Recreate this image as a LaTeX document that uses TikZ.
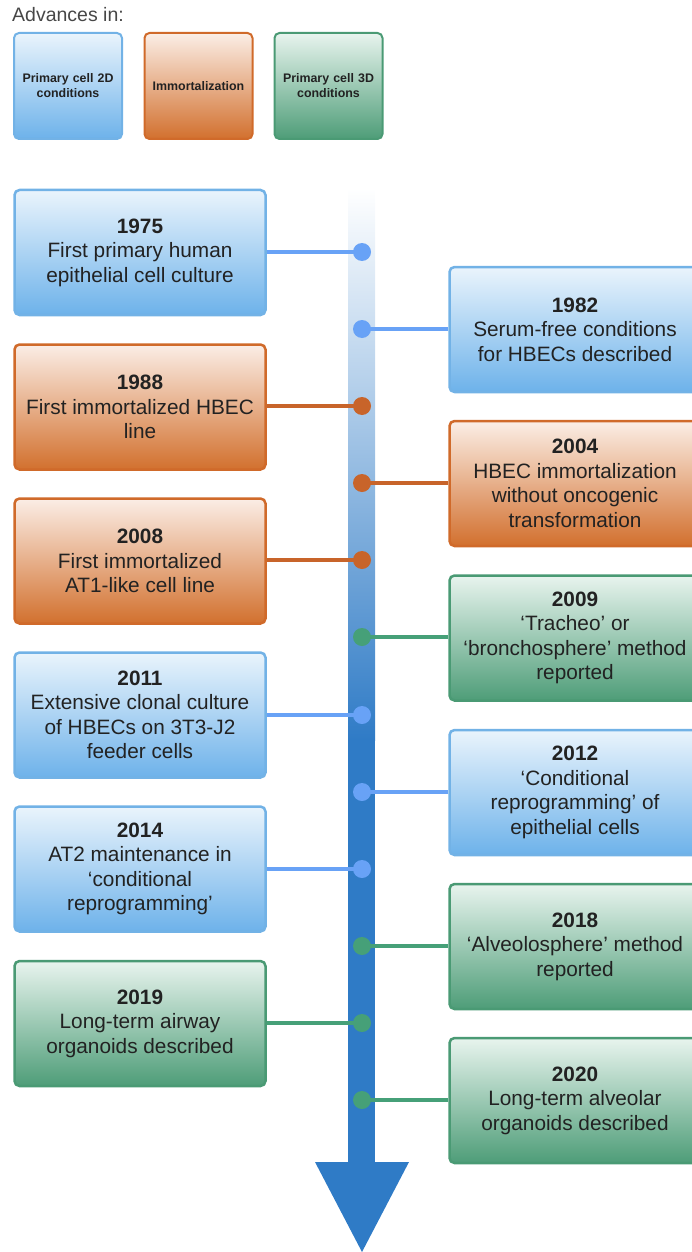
\documentclass[tikz,border=0pt]{standalone}
\usepackage{fontspec}
\setmainfont{Liberation Sans}
\usetikzlibrary{positioning}

\definecolor{bluetop}{HTML}{EAF4FC}
\definecolor{bluebot}{HTML}{6DB2EA}
\definecolor{blueedge}{HTML}{72B2E6}
\definecolor{blueline}{HTML}{68A2F6}
\definecolor{orgtop}{HTML}{FBEEE6}
\definecolor{orgbot}{HTML}{D2702E}
\definecolor{orgedge}{HTML}{D06A2A}
\definecolor{orgline}{HTML}{C8642A}
\definecolor{grntop}{HTML}{E8F4EE}
\definecolor{grnbot}{HTML}{4E9D78}
\definecolor{grnedge}{HTML}{4A9A74}
\definecolor{grnline}{HTML}{46A078}
\definecolor{barblue}{HTML}{2F7BC6}
\definecolor{txt}{HTML}{222222}

\tikzset{
  event/.style={rounded corners=5pt, line width=2.5pt, minimum width=251pt,
    minimum height=125pt, align=center, text=txt,
    font=\fontsize{20.8}{24.5}\selectfont},
  twod/.style={event, draw=blueedge, top color=bluetop, bottom color=bluebot},
  immo/.style={event, draw=orgedge, top color=orgtop, bottom color=orgbot},
  threed/.style={event, draw=grnedge, top color=grntop, bottom color=grnbot},
  key/.style={minimum width=108pt, minimum height=106pt, text width=100pt,
    inner sep=2pt, line width=2pt, font=\fontsize{12.4}{15}\bfseries},
  dot/.style={circle, inner sep=0pt, minimum size=18pt, fill=#1},
  conn/.style={line width=4pt, draw=#1}
}

\begin{document}
\begin{tikzpicture}[x=1pt, y=-1pt]
  \useasboundingbox (0,0) rectangle (692,1252);

  % legend
  \node[anchor=base west, text=black!72, font=\fontsize{19.5}{22}\selectfont, inner sep=0pt] (adv) at (12,22) {Advances in:};
  \node[twod, key] (k2d) at (68,86) {Primary cell 2D\\conditions};
  \node[immo, key] (kim) at (198.5,86) {Immortalization};
  \node[threed, key] (k3d) at (328.5,86) {Primary cell 3D\\conditions};

  % timeline bar
  \shade[top color=white, bottom color=barblue] (348,188) rectangle (375,740);
  \fill[barblue] (348,739) rectangle (375,1163);
  \fill[barblue] (315,1162) -- (409,1162) -- (362,1252) -- cycle;

  % left events
  \node[twod] (e1975) at (140,252.5) {\textbf{1975}\\First primary human\\epithelial cell culture};
  \node[immo] (e1988) at (140,407) {\textbf{1988}\\First immortalized HBEC\\line};
  \node[immo] (e2008) at (140,561) {\textbf{2008}\\First immortalized\\AT1-like cell line};
  \node[twod] (e2011) at (140,715) {\textbf{2011}\\Extensive clonal culture\\of HBECs on 3T3-J2\\feeder cells};
  \node[twod] (e2014) at (140,869) {\textbf{2014}\\AT2 maintenance in\\‘conditional\\reprogramming’};
  \node[threed] (e2019) at (140,1023.5) {\textbf{2019}\\Long-term airway\\organoids described};

  % right events
  \node[twod] (e1982) at (575,329.5) {\textbf{1982}\\Serum-free conditions\\for HBECs described};
  \node[immo] (e2004) at (575,483.5) {\textbf{2004}\\HBEC immortalization\\without oncogenic\\transformation};
  \node[threed] (e2009) at (575,638) {\textbf{2009}\\‘Tracheo’ or\\‘bronchosphere’ method\\reported};
  \node[twod] (e2012) at (575,792.5) {\textbf{2012}\\‘Conditional\\reprogramming’ of\\epithelial cells};
  \node[threed] (e2018) at (575,946.5) {\textbf{2018}\\‘Alveolosphere’ method\\reported};
  \node[threed] (e2020) at (575,1100.5) {\textbf{2020}\\Long-term alveolar\\organoids described};

  % dots on the bar
  \node[dot=blueline] (d1975) at (362,252) {};
  \node[dot=blueline] (d1982) at (362,329) {};
  \node[dot=orgline] (d1988) at (362,406) {};
  \node[dot=orgline] (d2004) at (362,483) {};
  \node[dot=orgline] (d2008) at (362,560) {};
  \node[dot=grnline] (d2009) at (362,637) {};
  \node[dot=blueline] (d2011) at (362,715) {};
  \node[dot=blueline] (d2012) at (362,792) {};
  \node[dot=blueline] (d2014) at (362,869) {};
  \node[dot=grnline] (d2018) at (362,946) {};
  \node[dot=grnline] (d2019) at (362,1023) {};
  \node[dot=grnline] (d2020) at (362,1100) {};

  \draw[conn=blueline] (e1975.east |- d1975) -- (d1975.center);
  \draw[conn=blueline] (e1982.west |- d1982) -- (d1982.center);
  \draw[conn=orgline] (e1988.east |- d1988) -- (d1988.center);
  \draw[conn=orgline] (e2004.west |- d2004) -- (d2004.center);
  \draw[conn=orgline] (e2008.east |- d2008) -- (d2008.center);
  \draw[conn=grnline] (e2009.west |- d2009) -- (d2009.center);
  \draw[conn=blueline] (e2011.east |- d2011) -- (d2011.center);
  \draw[conn=blueline] (e2012.west |- d2012) -- (d2012.center);
  \draw[conn=blueline] (e2014.east |- d2014) -- (d2014.center);
  \draw[conn=grnline] (e2018.west |- d2018) -- (d2018.center);
  \draw[conn=grnline] (e2019.east |- d2019) -- (d2019.center);
  \draw[conn=grnline] (e2020.west |- d2020) -- (d2020.center);
\end{tikzpicture}
\end{document}
